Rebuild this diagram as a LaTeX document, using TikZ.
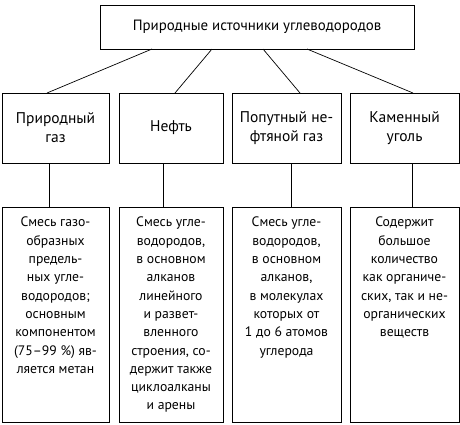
\documentclass[tikz,border=0pt]{standalone}
\usepackage{fontspec}
\setmainfont{PT Sans}
\usetikzlibrary{calc}
\begin{document}
\begin{tikzpicture}[x=1pt,y=-1pt,
  box/.style={draw,line width=0.8pt,inner sep=0pt,outer sep=0pt},
  txt/.style={align=center,inner sep=0pt,font=\fontsize{13.7}{18.3}\selectfont},
  midtxt/.style={txt,font=\fontsize{15.5}{19}\selectfont},
  link/.style={line width=0.7pt}]
\useasboundingbox (0,0) rectangle (460,424);
\node[box,minimum width=314,minimum height=44] (top) at (257,27) {};
\node[txt,font=\fontsize{14.9}{18}\selectfont] (toptxt) at (top.center) {Природные источники углеводородов};
\node[box,minimum width=107,minimum height=70] (b1) at (55.5,128) {};
\node[box,minimum width=104,minimum height=70] (b2) at (171,128) {};
\node[box,minimum width=109,minimum height=70] (b3) at (286.5,128) {};
\node[box,minimum width=109,minimum height=70] (b4) at (404.5,128) {};
\node[midtxt] (t1) at (b1.center) {Природный\\газ};
\node[midtxt] (t2) at (b2.center) {Нефть};
\node[midtxt] (t3) at (b3.center) {Попутный не-\\фтяной газ};
\node[midtxt] (t4) at (b4.center) {Каменный\\уголь};
\node[box,minimum width=107,minimum height=215] (c1) at (55.5,314.5) {};
\node[box,minimum width=104,minimum height=215] (c2) at (171,314.5) {};
\node[box,minimum width=109,minimum height=215] (c3) at (286.5,314.5) {};
\node[box,minimum width=109,minimum height=215] (c4) at (404.5,314.5) {};
\node[txt,anchor=north] (d1) at ([yshift=-10pt]c1.north) {Смесь газо-\\образных\\предель-\\ных угле-\\водородов;\\основным\\компонентом\\(75–99~\%) яв-\\ляется метан};
\node[txt,anchor=north] (d2) at ([yshift=-10pt]c2.north) {Смесь угле-\\водородов,\\в основном\\алканов\\линейного\\и развет-\\вленного\\строения, со-\\держит также\\циклоалканы\\и арены};
\node[txt,anchor=north] (d3) at ([yshift=-10pt]c3.north) {Смесь угле-\\водородов,\\в основном\\алканов,\\в молекулах\\которых от\\1 до 6 атомов\\углерода};
\node[txt,anchor=north] (d4) at ([yshift=-10pt]c4.north) {Содержит\\большое\\количество\\как органиче-\\ских, так и не-\\органических\\веществ};
\draw[link] ([xshift=-105pt]top.south) -- ([xshift=-8.5pt]b1.north);
\draw[link] ([xshift=-45pt]top.south) -- ([xshift=4pt]b2.north);
\draw[link] ([xshift=6pt]top.south) -- ([xshift=13.5pt]b3.north);
\draw[link] ([xshift=50pt]top.south) -- ([xshift=8.5pt]b4.north);
\draw[link] ([xshift=-6.5pt]b1.south) -- ([xshift=-6.5pt]c1.north);
\draw[link] ([xshift=-8pt]b2.south) -- ([xshift=-8pt]c2.north);
\draw[link] ([xshift=4.5pt]b3.south) -- ([xshift=4.5pt]c3.north);
\draw[link] ([xshift=7.5pt]b4.south) -- ([xshift=7.5pt]c4.north);
\end{tikzpicture}
\end{document}
